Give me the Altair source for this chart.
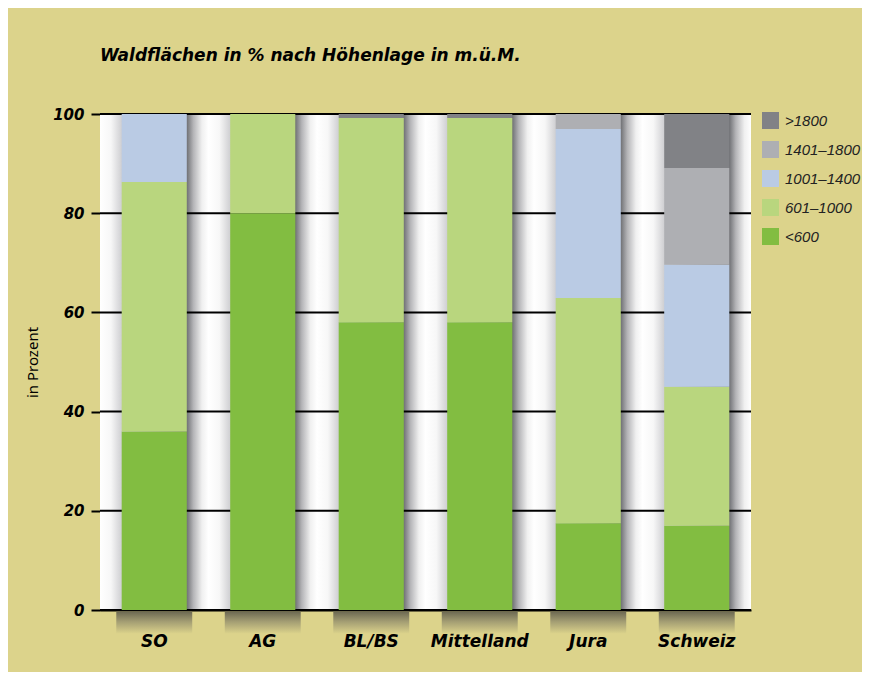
import altair as alt
import pandas as pd

categories = ["SO", "AG", "BL/BS", "Mittelland", "Jura", "Schweiz"]
classes = ["<600", "601–1000", "1001–1400", "1401–1800", ">1800"]
v_lt600 = [36, 80, 58, 58, 17.5, 17]
v_601_1000 = [50.3, 20, 41.2, 41.2, 45.4, 28]
v_1001_1400 = [13.7, 0, 0, 0, 34.1, 24.6]
v_1401_1800 = [0, 0, 0, 0, 3.0, 19.5]
v_gt1800 = [0, 0, 0.8, 0.8, 0, 10.9]
colors = ["#82BD41", "#B9D67E", "#BACBE4", "#AEAFB3", "#818286"]
grid_values = [0, 20, 40, 60, 80, 100]

series = [v_lt600, v_601_1000, v_1001_1400, v_1401_1800, v_gt1800]
rows = []
for ci, cls in enumerate(classes):
    for cat, val in zip(categories, series[ci]):
        rows.append({"Region": cat, "Klasse": cls, "Wert": val, "idx": ci})
df = pd.DataFrame(rows)
cat_df = pd.DataFrame({"Region": categories, "top": [100] * 6, "bot": [0] * 6,
                       "s1": [-0.3] * 6, "s2": [-4.8] * 6})
grid_df = pd.DataFrame({"v": grid_values})

TAN = "#DCD38B"
BOLD_FONT = "DejaVu Sans"

yscale = alt.Scale(domain=[0, 100], nice=False, zero=False)
xscale = alt.Scale(domain=categories, paddingInner=0, paddingOuter=0)

x_axis = alt.Axis(title=None, labelAngle=0, ticks=False, tickSize=0,
                  labelPadding=23, labelFont=BOLD_FONT, labelFontSize=17,
                  labelFontWeight="bold", labelFontStyle="italic",
                  labelColor="black", domainColor="black", domainWidth=2,
                  grid=False)
y_axis = alt.Axis(values=grid_values, title="in Prozent", domain=False, grid=False,
                  tickColor="black", tickWidth=2, tickSize=9, labelPadding=7,
                  labelFont=BOLD_FONT, labelFontSize=15, labelFontWeight="bold",
                  labelFontStyle="italic", labelColor="black",
                  titleFont="Noto Sans", titleFontSize=15, titleFontWeight="normal",
                  titleColor="black", titlePadding=12)


def X():
    return alt.X("Region:N", scale=xscale, sort=categories, axis=x_axis)


def Y(field):
    return alt.Y(field, scale=yscale, axis=y_axis)


shadow = alt.Chart(cat_df).mark_bar(
    width={"band": 1.0},
    color=alt.Gradient(
        gradient="linear", x1=0, x2=1, y1=0, y2=0,
        stops=[alt.GradientStop(offset=0, color="#ffffff"),
               alt.GradientStop(offset=0.1, color="#f7f7f7"),
               alt.GradientStop(offset=0.2, color="#cfcfd2"),
               alt.GradientStop(offset=0.8, color="#707175"),
               alt.GradientStop(offset=0.86, color="#b4b4b7"),
               alt.GradientStop(offset=0.94, color="#f0f0f0"),
               alt.GradientStop(offset=1.0, color="#ffffff")]),
).encode(x=X(), y=Y("top:Q"), y2="bot:Q")

bottom_shadow = alt.Chart(cat_df).mark_bar(
    width={"band": 0.7}, clip=False,
    color=alt.Gradient(
        gradient="linear", x1=0, x2=0, y1=0, y2=1,
        stops=[alt.GradientStop(offset=0, color="#6c6852"),
               alt.GradientStop(offset=0.45, color="#a39d73"),
               alt.GradientStop(offset=1.0, color=TAN)]),
).encode(x=X(), y=Y("s1:Q"), y2="s2:Q")

grid = alt.Chart(grid_df).mark_rule(color="black", strokeWidth=2).encode(
    y=Y("v:Q")
)

bars = alt.Chart(df).mark_bar(width={"band": 0.6}, strokeWidth=0).encode(
    x=X(),
    y=alt.Y("sum(Wert):Q", scale=yscale, axis=y_axis, stack="zero"),
    color=alt.Color("Klasse:N",
                    scale=alt.Scale(domain=classes[::-1], range=colors[::-1]),
                    legend=alt.Legend(title=None, orient="none", legendX=662, legendY=-2,
                                      symbolType="square", symbolSize=289,
                                      symbolStrokeWidth=0, rowPadding=12,
                                      labelFont="Liberation Sans", labelFontSize=15,
                                      labelFontStyle="italic", labelColor="#222222",
                                      labelOffset=6)),
    order=alt.Order("idx:Q", sort="ascending"),
)

chart = alt.layer(shadow, bottom_shadow, grid, bars).properties(
    width=651, height=496,
    autosize=alt.AutoSizeParams(type="none"),
    padding={"left": 92, "top": 106, "right": 111, "bottom": 62},
    background=TAN,
    title=alt.TitleParams("Waldflächen in % nach Höhenlage in m.ü.M.", anchor="start",
                          frame="group",
                          font=BOLD_FONT, fontSize=17, fontWeight="bold",
                          fontStyle="italic", color="black", offset=42),
).configure_view(fill="white", stroke=None)

chart.save("out.html", embed_options={"renderer": "svg", "actions": False})
